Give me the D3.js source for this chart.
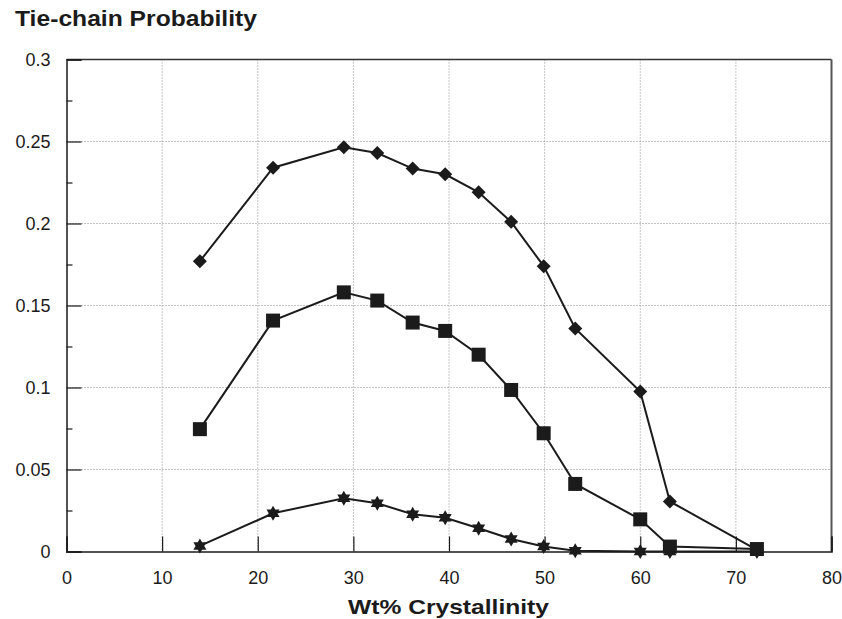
<!DOCTYPE html>
<html>
<head>
<meta charset="utf-8">
<script src="https://cdn.jsdelivr.net/npm/d3@7"></script>
<style>
  html, body { margin: 0; padding: 0; background: #fff; }
  svg { display: block; }
</style>
</head>
<body>
<svg id="chart" width="842" height="619"></svg>
<script>
// ---- data ----
const crystallinity = [13.95, 21.6, 29.0, 32.5, 36.2, 39.6, 43.1, 46.5, 49.9, 53.2, 60.0, 63.1, 72.2];
const seriesDiamond = [0.177, 0.234, 0.2465, 0.243, 0.2335, 0.230, 0.219, 0.201, 0.174, 0.136, 0.0975, 0.0305, 0.001];
const seriesSquare  = [0.0746, 0.1408, 0.158, 0.153, 0.1396, 0.1345, 0.120, 0.0985, 0.0721, 0.0412, 0.0196, 0.003, 0.0015];
const seriesStar    = [0.0034, 0.0233, 0.0325, 0.0294, 0.0227, 0.0206, 0.0142, 0.0076, 0.003, 0.0005, 0.0, 0.0, 0.0];
const xTicks = [0, 10, 20, 30, 40, 50, 60, 70, 80];
const yTicks = [0, 0.05, 0.1, 0.15, 0.2, 0.25, 0.3];
const yMinorTicks = [0.025, 0.075, 0.125, 0.175, 0.225, 0.275];
const titleText = "Tie-chain Probability";
const xTitleText = "Wt% Crystallinity";

// ---- layout ----
const svg = d3.select("#chart");
const pLeft = 66.5, pRight = 831.5, pTop = 59.5, pBottom = 551.5;
const x = d3.scaleLinear().domain([0, 80]).range([pLeft, pRight]);
const y = d3.scaleLinear().domain([0, 0.3]).range([pBottom, pTop]);
const ink = "#1b1b1b";
const font = "Arial, 'Liberation Sans', Helvetica, sans-serif";

// gridlines
const grid = svg.append("g");
grid.selectAll("line.h").data(yTicks.filter(d => d > 0 && d < 0.3)).join("line")
  .attr("x1", pLeft).attr("x2", pRight)
  .attr("y1", d => y(d)).attr("y2", d => y(d))
  .attr("stroke", "#8a8a8a").attr("stroke-width", 1).attr("stroke-dasharray", "1,2");
grid.selectAll("line.v").data(xTicks.filter(d => d > 0 && d < 80)).join("line")
  .attr("y1", pTop).attr("y2", pBottom)
  .attr("x1", d => x(d)).attr("x2", d => x(d))
  .attr("stroke", "#8a8a8a").attr("stroke-width", 1).attr("stroke-dasharray", "1,2");

// frame top/right
svg.append("line").attr("x1", pLeft).attr("x2", pRight).attr("y1", pTop).attr("y2", pTop)
  .attr("stroke", "#333").attr("stroke-width", 1.5);
svg.append("line").attr("x1", pRight).attr("x2", pRight).attr("y1", pTop).attr("y2", pBottom)
  .attr("stroke", "#555").attr("stroke-width", 2);

// axes
const yAxis = svg.append("g").attr("transform", `translate(${pLeft},0)`)
  .call(d3.axisLeft(y).tickValues(yTicks).tickSize(-15).tickPadding(16)
    .tickFormat(d => String(+d.toFixed(2))));
const yMinor = svg.append("g").attr("transform", `translate(${pLeft},0)`)
  .call(d3.axisLeft(y).tickValues(yMinorTicks).tickSize(-6).tickFormat(""));
const xAxis = svg.append("g").attr("transform", `translate(0,${pBottom})`)
  .call(d3.axisBottom(x).tickValues(xTicks).tickSize(-15).tickPadding(20).tickFormat(d3.format("d")));

[yAxis, yMinor, xAxis].forEach(g => {
  g.select(".domain").attr("stroke", ink).attr("stroke-width", 1.5);
  g.selectAll(".tick line").attr("stroke", ink).attr("stroke-width", 1.2);
  g.selectAll(".tick text").attr("fill", ink).attr("font-family", font).attr("font-size", 18);
});
yMinor.select(".domain").remove();
yAxis.selectAll(".tick text").attr("dy", "0.36em");

// series lines & markers
const lineGen = d3.line().x(d => x(d[0])).y(d => y(d[1]));

const star6 = {
  draw(ctx, size) {
    const r = Math.sqrt(size) * 0.5, ri = r * 0.58;
    for (let i = 0; i < 12; i++) {
      const a = -Math.PI / 2 + i * Math.PI / 6;
      const rr = i % 2 === 0 ? r : ri;
      const px = rr * Math.cos(a), py = rr * Math.sin(a);
      if (i === 0) ctx.moveTo(px, py); else ctx.lineTo(px, py);
    }
    ctx.closePath();
  }
};
const diamondSym = {
  draw(ctx, size) {
    const r = Math.sqrt(size) * 0.5;
    ctx.moveTo(0, -r); ctx.lineTo(r, 0); ctx.lineTo(0, r); ctx.lineTo(-r, 0); ctx.closePath();
  }
};

const series = [
  { vals: seriesDiamond, sym: diamondSym, size: 14 * 14 },
  { vals: seriesSquare, sym: d3.symbolSquare, size: 14 * 14 },
  { vals: seriesStar, sym: star6, size: 15 * 15 }
];

series.forEach(s => {
  const pts = crystallinity.map((c, i) => [c, s.vals[i]]);
  svg.append("path").datum(pts).attr("d", lineGen)
    .attr("fill", "none").attr("stroke", ink).attr("stroke-width", 2);
  svg.append("g").selectAll("path").data(pts).join("path")
    .attr("transform", d => `translate(${x(d[0])},${y(d[1])})`)
    .attr("d", d3.symbol().type(s.sym).size(s.size))
    .attr("fill", ink);
});

// titles
svg.append("text").attr("x", 15).attr("y", 26)
  .attr("font-family", font).attr("font-weight", "bold").attr("font-size", 22)
  .attr("textLength", 242).attr("lengthAdjust", "spacingAndGlyphs")
  .attr("fill", ink).text(titleText);
svg.append("text").attr("x", 348).attr("y", 614)
  .attr("font-family", font).attr("font-weight", "bold").attr("font-size", 21)
  .attr("textLength", 201).attr("lengthAdjust", "spacingAndGlyphs")
  .attr("fill", ink).text(xTitleText);
</script>
</body>
</html>
